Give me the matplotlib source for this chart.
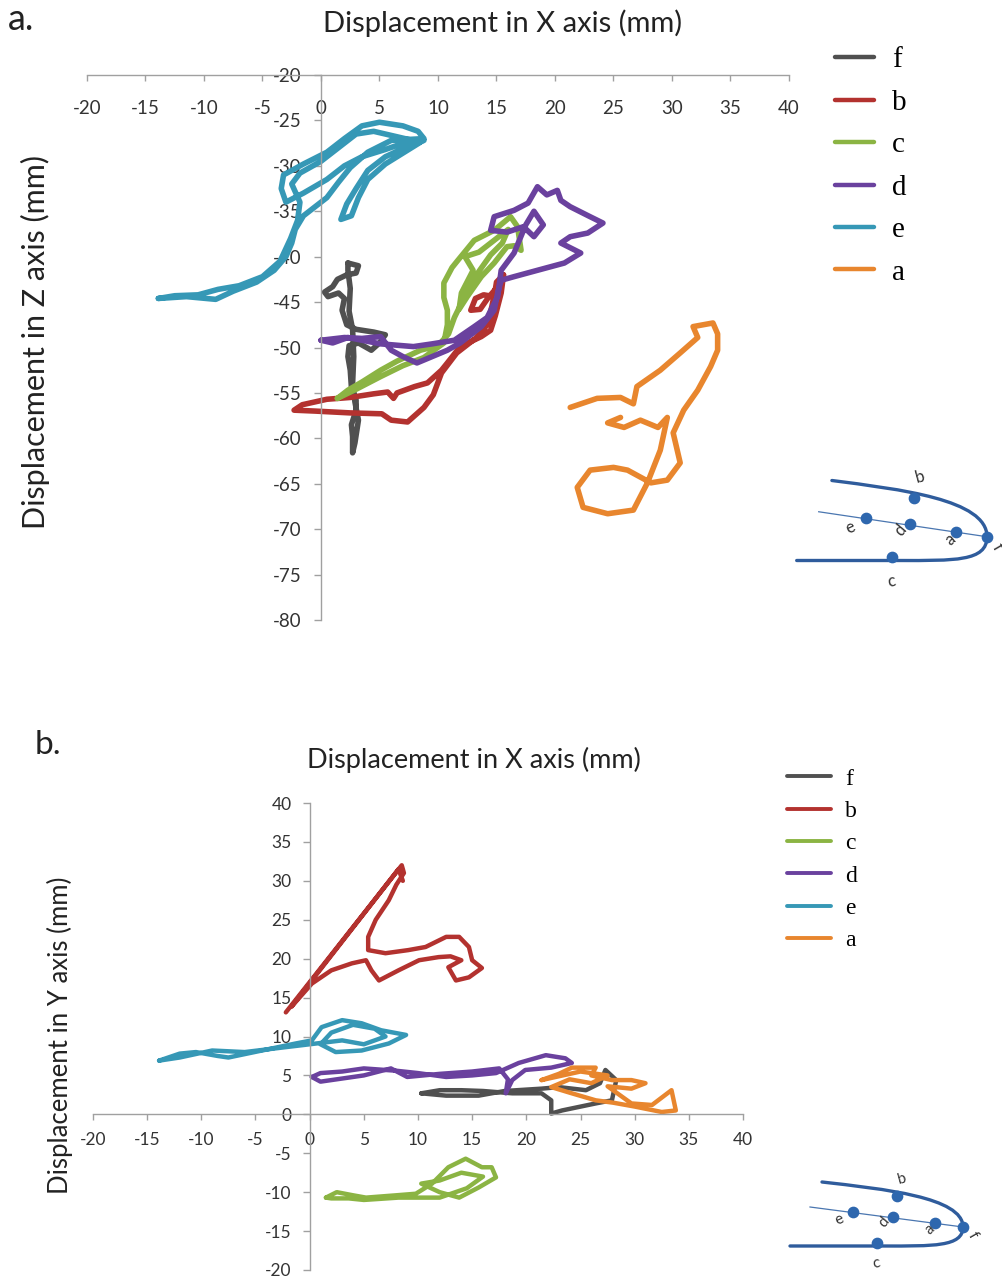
import matplotlib
matplotlib.use("Agg")
import matplotlib.pyplot as plt
from matplotlib.path import Path
from matplotlib.patches import PathPatch

plt.rcParams["axes.unicode_minus"] = False

# ---- trajectories, view a: X vs Z (mm) ----
xz_f_x = [2.3, 3.2, 3.0, 2.2, 1.4, 1.0, 0.3, 0.6, 1.5, 2.0, 1.8, 2.2, 3.0, 4.5, 5.5, 5.0, 4.3, 3.2, 2.4, 2.3,
          2.5, 2.6, 3.0, 3.0, 2.6, 2.7, 2.7, 2.9, 3.2, 2.9, 2.7, 2.8, 2.7, 2.4, 2.5, 2.3, 2.3]
xz_f_z = [-40.7, -41.0, -41.8, -42.0, -42.5, -43.3, -43.9, -44.4, -44.0, -44.6, -45.9, -47.5, -48.0, -48.3, -48.6,
          -49.5, -50.3, -49.5, -49.8, -51.0, -52.5, -54.4, -55.8, -56.9, -58.5, -59.8, -61.6, -60.5, -58.0, -56.0,
          -54.0, -51.0, -48.0, -46.0, -43.5, -41.5, -40.7]

xz_b_x = [15.6, 15.0, 14.8, 13.9, 13.2, 12.8, 13.6, 14.3, 14.9, 14.6, 14.2, 13.2, 11.6, 10.3, 9.6, 8.8, 7.4, 6.0,
          5.2, 2.5, -0.5, -2.3, -1.6, 0.5, 2.5, 4.5, 5.7, 6.2, 6.5, 8.0, 9.1, 10.3, 10.8, 11.9, 13.7, 14.5, 14.9,
          15.4, 15.6]
xz_b_z = [-42.0, -42.8, -44.4, -44.2, -44.6, -45.9, -45.8, -44.5, -43.6, -45.5, -47.5, -49.0, -50.6, -52.8, -55.2,
          -56.6, -58.2, -58.0, -57.3, -57.2, -57.0, -56.9, -56.3, -55.7, -55.5, -55.1, -54.9, -55.6, -55.0, -54.3,
          -53.9, -52.5, -51.7, -49.9, -48.8, -48.1, -46.5, -44.0, -42.0]

xz_c_x = [1.4, 3.0, 5.1, 7.0, 8.8, 10.5, 10.8, 10.8, 10.5, 10.5, 11.2, 11.7, 13.1, 14.8, 16.2, 16.8, 17.1, 16.5,
          15.9, 14.8, 13.7, 12.5, 11.8, 12.0, 13.0, 12.3, 13.5, 15.0, 16.0, 15.5, 14.5, 13.4, 12.2, 11.4, 10.9,
          10.0, 8.5, 6.5, 5.1, 3.5, 2.3, 1.4]
xz_c_z = [-55.6, -54.6, -53.2, -52.0, -51.1, -49.5, -47.5, -45.9, -44.5, -42.9, -41.2, -40.4, -38.2, -37.1, -35.6,
          -36.7, -39.3, -38.8, -38.9, -40.7, -42.2, -44.4, -45.8, -44.0, -41.5, -40.0, -39.5, -38.0, -37.0, -38.5,
          -39.8, -41.8, -44.6, -46.7, -48.5, -49.8, -50.3, -51.5, -52.5, -53.8, -54.7, -55.6]

xz_d_x = [0.0, 2.0, 3.5, 5.1, 6.0, 7.0, 8.2, 9.5, 10.8, 11.9, 13.7, 14.8, 15.1, 15.4, 16.5, 18.5, 20.8, 22.2, 20.5,
          21.3, 22.8, 24.1, 23.0, 21.3, 20.5, 20.2, 19.3, 18.5, 17.7, 16.5, 14.8, 14.5, 15.9, 17.3, 18.2, 19.0,
          18.2, 17.5, 16.5, 15.4, 15.1, 14.2, 13.1, 11.4, 9.5, 7.9, 5.1, 2.3, 1.0, 0.0]
xz_d_z = [-49.2, -48.9, -49.0, -48.8, -50.3, -51.0, -51.7, -51.0, -50.3, -49.5, -47.7, -45.9, -44.0, -42.6, -42.2,
          -41.5, -40.7, -39.6, -38.5, -37.8, -37.4, -36.3, -35.6, -34.5, -33.8, -32.7, -33.2, -32.3, -34.1, -34.9,
          -35.6, -37.1, -37.3, -36.7, -37.8, -36.5, -35.0, -36.5, -39.6, -41.5, -44.4, -46.7, -47.7, -49.2, -49.6,
          -49.9, -49.6, -48.9, -49.5, -49.2]

xz_e_x = [-13.9, -11.5, -9.0, -7.5, -5.5, -4.0, -3.0, -2.5, -2.2, -1.5, -0.5, 0.5, 1.5, 2.5, 4.0, 6.0, 8.8,
          8.3, 7.0, 5.0, 3.5, 2.0, 0.5, -1.5, -3.2, -3.4, -3.0, -1.5, 0.5, 2.0, 3.5, 5.5, 7.5, 8.8,
          7.5, 5.5, 4.0, 3.0, 2.2, 1.7, 2.6, 3.2, 4.0, 5.5, 7.5, 8.5,
          6.5, 4.5, 3.0, 1.5, 0.0, -1.8, -2.5, -1.8, -2.0, -2.6, -3.5, -5.0, -7.0, -8.8, -10.5, -12.5, -13.9]
xz_e_z = [-44.6, -44.4, -44.7, -43.8, -42.8, -41.5, -40.0, -38.5, -37.0, -35.5, -34.5, -33.5, -31.8, -30.2, -28.5,
          -27.2, -27.0, -26.2, -25.6, -25.2, -25.6, -27.0, -28.5, -29.8, -31.0, -32.5, -34.0, -33.0, -31.5, -30.0,
          -29.0, -28.2, -27.3, -27.2, -27.8, -29.0, -30.5, -32.5, -34.2, -35.9, -35.5, -33.5, -31.5, -29.8, -28.2,
          -27.4, -26.8, -26.2, -26.5, -28.0, -29.5, -30.8, -32.0, -34.0, -36.0, -38.0, -40.5, -42.2, -43.2, -43.6,
          -44.2, -44.3, -44.6]

xz_a_x = [21.3, 23.6, 25.6, 26.7, 27.0, 29.0, 30.7, 32.2, 31.8, 33.5, 33.9, 33.9, 33.3, 32.2, 31.0, 30.1, 30.7,
          29.6, 28.2, 26.2, 25.0, 23.0, 21.9, 22.4, 24.5, 26.7, 27.9, 29.0, 29.6, 28.8, 27.3, 25.9, 24.5, 25.6]
xz_a_z = [-56.6, -55.6, -55.5, -56.2, -54.3, -52.5, -50.6, -48.9, -47.7, -47.3, -48.5, -50.3, -52.1, -54.7, -56.9,
          -59.4, -62.7, -64.6, -64.9, -63.5, -63.2, -63.5, -65.4, -67.6, -68.3, -67.9, -64.9, -61.3, -57.7, -58.8,
          -58.0, -58.8, -58.3, -57.7]

# ---- trajectories, view b: X vs Y (mm) ----
xy_f_x = [10.3, 12.0, 14.0, 16.0, 18.7, 21.4, 22.3, 22.3, 23.3, 26.4, 27.9, 28.3, 27.3, 26.8, 25.5, 23.0, 21.4,
          18.0, 15.6, 12.6, 10.3]
xy_f_y = [2.7, 3.1, 3.1, 3.0, 2.7, 2.7, 1.8, 0.1, 0.5, 1.4, 1.8, 4.4, 5.7, 4.0, 3.1, 3.5, 3.3, 3.0, 2.4, 2.4, 2.7]

xy_b_x = [-2.2, 8.5, 8.7, 8.0, 7.3, 6.1, 5.4, 5.4, 7.0, 9.1, 10.7, 12.6, 13.8, 14.7, 15.0, 15.9, 14.7, 13.5, 12.8,
          14.0, 13.0, 11.9, 10.1, 8.2, 6.4, 5.7, 5.2, 3.9, 2.0, 0.2, -1.7, 8.2, 8.6]
xy_b_y = [13.1, 32.0, 31.0, 29.5, 27.5, 25.0, 22.8, 21.1, 20.7, 21.1, 21.5, 22.8, 22.8, 21.5, 19.8, 18.8, 17.6, 17.2,
          18.9, 19.8, 20.3, 20.2, 19.8, 18.5, 17.2, 18.5, 19.8, 19.4, 18.5, 16.8, 13.8, 31.5, 30.0]

xy_c_x = [1.5, 2.5, 4.0, 5.2, 8.0, 9.8, 11.3, 12.8, 14.4, 15.9, 16.8, 17.2, 15.6, 13.8, 12.0, 10.3, 12.0, 14.0,
          16.0, 14.5, 12.0, 8.2, 5.0, 3.6, 2.0, 1.5]
xy_c_y = [-10.7, -10.0, -10.4, -10.7, -10.4, -10.2, -8.9, -6.8, -5.7, -6.8, -6.8, -8.1, -9.4, -10.7, -10.0, -8.9,
          -8.5, -7.5, -8.0, -9.5, -10.7, -10.7, -11.0, -10.8, -10.8, -10.7]

xy_d_x = [0.2, 1.0, 3.0, 5.0, 8.0, 10.0, 12.6, 15.0, 17.2, 19.3, 21.8, 23.6, 24.2, 22.3, 19.9, 18.7, 18.1, 18.3,
          17.5, 15.0, 12.0, 9.0, 7.5, 5.0, 3.0, 1.0, 0.2]
xy_d_y = [4.8, 5.3, 5.5, 5.9, 5.6, 5.3, 4.8, 5.0, 5.3, 6.6, 7.6, 7.2, 6.6, 6.0, 5.7, 4.4, 2.7, 4.5, 5.9, 5.5, 5.2,
          4.8, 5.9, 5.0, 4.6, 4.2, 4.8]

xy_e_x = [-13.9, -12.0, -10.5, -8.5, -7.5, -4.4, -1.3, 0.2, 1.1, 3.0, 4.8, 6.6, 8.9, 7.3, 4.8, 2.4, 1.0, 2.0, 4.0,
          6.0, 7.0, 5.0, 3.0, 0.0, -3.0, -6.0, -9.0, -12.0, -13.9]
xy_e_y = [6.9, 7.8, 8.0, 7.5, 7.3, 8.2, 9.1, 9.5, 11.2, 12.1, 11.7, 10.8, 10.2, 9.1, 8.2, 8.0, 9.0, 10.5, 11.5,
          11.0, 10.0, 9.0, 9.5, 9.0, 8.5, 8.0, 8.2, 7.3, 6.9]

xy_a_x = [21.4, 23.0, 24.2, 26.4, 26.0, 27.9, 29.7, 31.0, 29.7, 27.5, 29.7, 31.6, 33.4, 33.8, 32.5, 30.0, 28.0,
          26.4, 24.2, 22.3, 24.0, 26.0, 27.5, 25.0, 21.4]
xy_a_y = [4.4, 5.2, 6.0, 6.0, 5.0, 4.4, 4.4, 4.0, 3.3, 3.6, 1.4, 1.2, 3.1, 0.5, 0.3, 1.0, 1.5, 1.8, 2.7, 3.5, 4.5,
          4.0, 5.0, 5.5, 4.4]

labels = ["f", "b", "c", "d", "e", "a"]
colors = ["#505050", "#B3322F", "#8BB443", "#6A419E", "#3698B6", "#E8862E"]
xz_series = [(xz_f_x, xz_f_z), (xz_b_x, xz_b_z), (xz_c_x, xz_c_z),
             (xz_d_x, xz_d_z), (xz_e_x, xz_e_z), (xz_a_x, xz_a_z)]
xy_series = [(xy_f_x, xy_f_y), (xy_b_x, xy_b_y), (xy_c_x, xy_c_y),
             (xy_d_x, xy_d_y), (xy_e_x, xy_e_y), (xy_a_x, xy_a_y)]

# schematic of the arch: dot positions and their letters (local units, vertex at origin)
dot_names = ["b", "e", "d", "a", "f", "c"]
dot_x = [-66, -110, -70, -28, 0, -86]
dot_y = [31, 15, 10, 4, 0, -16]
name_x = [-61, -124, -79, -33, 9, -87]
name_y = [48, 7, 5, -2, -8, -36]
name_rot = [15, 25, 50, 40, -60, 10]

W, H = 1003, 1279
AXIS_GREY = "#A0A0A0"
TEXT = "#333333"
SANS = "Lato"

fig = plt.figure(figsize=(W / 100, H / 100), dpi=100)


def box(x0, y0, x1, y1):
    # pixel box (top-left origin) -> figure fraction rect
    return [x0 / W, 1 - y1 / H, (x1 - x0) / W, (y1 - y0) / H]


def style_axes(ax, xcross, ycross, fsize, xpad, ypad):
    for side in ("top", "right"):
        ax.spines[side].set_visible(False)
    ax.spines["left"].set_position(("data", xcross))
    ax.spines["bottom"].set_position(("data", ycross))
    for side in ("left", "bottom"):
        ax.spines[side].set_color(AXIS_GREY)
        ax.spines[side].set_linewidth(1.0)
    ax.tick_params(axis="x", direction="out", length=4, width=1, color=AXIS_GREY,
                   labelsize=fsize, labelcolor=TEXT, pad=xpad)
    ax.tick_params(axis="y", direction="out", length=5, width=1, color=AXIS_GREY,
                   labelsize=fsize, labelcolor=TEXT, pad=ypad)
    for lab in ax.get_xticklabels() + ax.get_yticklabels():
        lab.set_fontfamily(SANS)
    ax.patch.set_alpha(0)


def draw_arch(ax, fsize):
    verts = [(-141, 45), (-80, 38), (0, 30), (0, 0),
             (0, -20), (-30, -19), (-80, -19), (-173, -19)]
    codes = [Path.MOVETO, Path.CURVE4, Path.CURVE4, Path.CURVE4,
             Path.CURVE4, Path.CURVE4, Path.CURVE4, Path.LINETO]
    ax.add_patch(PathPatch(Path(verts, codes), fill=False, lw=2.4, color="#2F5C9C", capstyle="round"))
    ax.plot([-153, 0], [20, 0], lw=0.9, color="#4A76B0")
    ax.scatter(dot_x, dot_y, s=55, color="#2E67AE", zorder=3)
    for nm, tx, ty, r in zip(dot_names, name_x, name_y, name_rot):
        ax.text(tx, ty, nm, fontsize=fsize, color=TEXT, rotation=r, ha="center", va="center",
                family=SANS)
    ax.set_xlim(-180, 25)
    ax.set_ylim(-45, 55)
    ax.axis("off")


# ---------------- view a ----------------
ax1 = fig.add_axes(box(87, 75, 789, 620))
for (xs, ys), c, lab in zip(xz_series, colors, labels):
    ax1.plot(xs, ys, color=c, lw=4.0, solid_joinstyle="round", solid_capstyle="round", label=lab)
ax1.set_xlim(-20, 40)
ax1.set_ylim(-80, -20)
ax1.set_xticks(range(-20, 41, 5))
ax1.set_yticks(range(-80, -19, 5))
style_axes(ax1, 0, -20, 13.5, 14, 9)
ax1.legend(loc="upper left", bbox_to_anchor=(835 / W, 1 - 47 / H), bbox_transform=fig.transFigure,
           frameon=False, prop={"family": "Liberation Serif", "size": 21},
           handlelength=1.35, handletextpad=0.6, labelspacing=0.55, borderaxespad=0, borderpad=0)
for h in ax1.get_legend().get_lines():
    h.set_linewidth(3.2)

fig.text(503 / W, 1 - 23 / H, "Displacement in X axis (mm)", ha="center", va="center",
         fontsize=21, color="#222222", family=SANS)
fig.text(35 / W, 1 - 342 / H, "Displacement in Z axis (mm)", ha="center", va="center",
         rotation=90, fontsize=22, color="#222222", family=SANS)
fig.text(8 / W, 1 - 20 / H, "a.", ha="left", va="center", fontsize=26, color="#222222", family=SANS)

ins1 = fig.add_axes(box(789, 468, 1014.5, 593))
draw_arch(ins1, 12)

# ---------------- view b ----------------
ax2 = fig.add_axes(box(93, 803, 743, 1270))
for (xs, ys), c, lab in zip(xy_series, colors, labels):
    ax2.plot(xs, ys, color=c, lw=3.2, solid_joinstyle="round", solid_capstyle="round", label=lab)
ax2.set_xlim(-20, 40)
ax2.set_ylim(-20, 40)
ax2.set_xticks(range(-20, 41, 5))
ax2.set_yticks(range(-20, 41, 5))
style_axes(ax2, 0, 0, 12.5, 9, 8)
ax2.legend(loc="upper left", bbox_to_anchor=(787 / W, 1 - 768 / H), bbox_transform=fig.transFigure,
           frameon=False, prop={"family": "Liberation Serif", "size": 17},
           handlelength=1.85, handletextpad=0.6, labelspacing=0.46, borderaxespad=0, borderpad=0)
for h in ax2.get_legend().get_lines():
    h.set_linewidth(2.8)

fig.text(474 / W, 1 - 760 / H, "Displacement in X axis (mm)", ha="center", va="center",
         fontsize=19.5, color="#222222", family=SANS)
fig.text(60 / W, 1 - 1035 / H, "Displacement in Y axis (mm)", ha="center", va="center",
         rotation=90, fontsize=18.5, color="#222222", family=SANS)
fig.text(35 / W, 1 - 745 / H, "b.", ha="left", va="center", fontsize=24, color="#222222", family=SANS)

ins2 = fig.add_axes(box(783, 1172, 988, 1272))
draw_arch(ins2, 11)

fig.savefig("out.png", dpi=100)
